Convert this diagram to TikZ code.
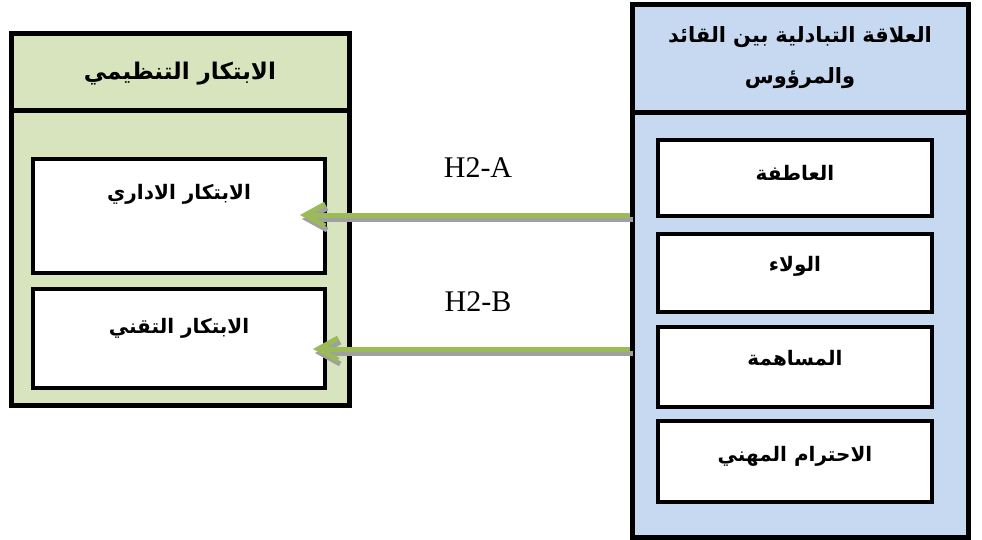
\documentclass[tikz,border=0pt]{standalone}
\usepackage{fontspec}
\setmainfont{Liberation Serif}
\newfontfamily\arabicfont[Script=Arabic]{DejaVu Sans}
\TeXXeTstate=1
\usetikzlibrary{arrows.meta}
\definecolor{greenfill}{HTML}{D7E4BD}
\definecolor{bluefill}{HTML}{C6D9F1}
\definecolor{arrowgreen}{HTML}{9BBB59}
\definecolor{shadowgray}{HTML}{A0A0A0}
\tikzset{
  outerbox/.style={draw=black, line width=5pt, minimum width=#1},
  greenbox/.style={outerbox=338pt, fill=greenfill, inner sep=0pt},
  bluebox/.style={outerbox=336pt, fill=bluefill, inner sep=0pt},
  innerbox/.style={draw=black, line width=4.5pt, fill=white, inner sep=0pt},
  artext/.style={font=\arabicfont\bfseries\fontsize{#1}{#1}\selectfont, inner sep=0pt, align=center},
  hlabel/.style={font=\fontsize{30}{30}\selectfont, inner sep=0pt},
  relarrow/.style={draw=arrowgreen, line width=5pt, -{Straight Barb[length=20pt,width=22pt]}},
  relshadow/.style={draw=shadowgray, line width=5pt, -{Straight Barb[length=20pt,width=22pt]}},
}
\begin{document}
\begin{tikzpicture}[x=1pt,y=1pt]
\useasboundingbox (0,0) rectangle (982,-540);
% left group
\node[greenbox, minimum height=371pt] (L) at (180,-219.5) {};
\node[greenbox, minimum height=77pt] (Lh) at (180,-72.5) {};
\node[artext=23] (Lht) at (180,-74) {\beginR الابتكار التنظيمي\endR};
\node[innerbox, minimum width=292pt, minimum height=114pt] (L1) at (179,-216) {};
\node[artext=20] (L1t) at (179,-194) {\beginR الابتكار الاداري\endR};
\node[innerbox, minimum width=292pt, minimum height=99pt] (L2) at (179,-338.5) {};
\node[artext=20] (L2t) at (179,-328) {\beginR الابتكار التقني\endR};
% right group
\node[bluebox, minimum height=532pt] (R) at (800,-271) {};
\node[bluebox, minimum height=108pt] (Rh) at (800,-59) {};
\node[artext=21, text width=300pt] (Rht) at (800,-58) {\beginR العلاقة التبادلية بين القائد\endR\\[19pt]\beginR والمرؤوس\endR};
\node[innerbox, minimum width=274pt, minimum height=76pt] (R1) at (795,-178) {};
\node[artext=20] (R1t) at (795,-173) {\beginR العاطفة\endR};
\node[innerbox, minimum width=274pt, minimum height=78pt] (R2) at (795,-273) {};
\node[artext=20] (R2t) at (795,-266) {\beginR الولاء\endR};
\node[innerbox, minimum width=274pt, minimum height=80pt] (R3) at (795,-367) {};
\node[artext=20] (R3t) at (795,-358) {\beginR المساهمة\endR};
\node[innerbox, minimum width=274pt, minimum height=81pt] (R4) at (795,-461.5) {};
\node[artext=20] (R4t) at (795,-456) {\beginR الاحترام المهني\endR};
% labels
\node[hlabel] (HA) at (478,-168) {H2-A};
\node[hlabel] (HB) at (478,-302) {H2-B};
% arrows
\coordinate (A1s) at (R.west |- 0,-215);
\coordinate (A1e) at (300,-215);
\coordinate (A2s) at (R.west |- 0,-349);
\coordinate (A2e) at (313,-349);
\coordinate (A1ss) at (633,-219);
\coordinate (A1se) at (302,-219);
\coordinate (A2ss) at (633,-353);
\coordinate (A2se) at (315,-353);
\draw[relshadow] (A1ss) -- (A1se);
\draw[relarrow] (A1s) -- (A1e);
\draw[relshadow] (A2ss) -- (A2se);
\draw[relarrow] (A2s) -- (A2e);
\end{tikzpicture}
\end{document}
